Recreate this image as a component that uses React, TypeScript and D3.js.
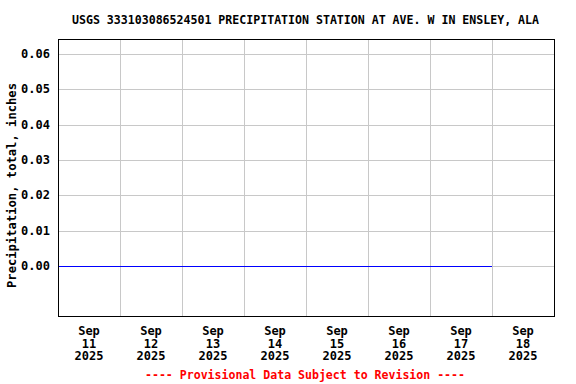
import { useRef, useEffect } from "react";
import * as d3 from "d3";

const title = "USGS 333103086524501 PRECIPITATION STATION AT AVE. W IN ENSLEY, ALA";
const yLabel = "Precipitation, total, inches";
const footer = "---- Provisional Data Subject to Revision ----";

const obsDates = ["2025-09-11", "2025-09-12", "2025-09-13", "2025-09-14", "2025-09-15", "2025-09-16", "2025-09-17", "2025-09-18"];
const obsValues = [0, 0, 0, 0, 0, 0, 0, 0];
const yTicks = [0, 0.01, 0.02, 0.03, 0.04, 0.05, 0.06];
const dayTicks = ["2025-09-11", "2025-09-12", "2025-09-13", "2025-09-14", "2025-09-15", "2025-09-16", "2025-09-17", "2025-09-18"];

const FONT = "'DejaVu Sans Mono', monospace";

export default function App() {
  const ref = useRef<SVGSVGElement>(null);
  useEffect(() => {
    if (!ref.current) return;
    const svg = d3.select(ref.current);
    svg.selectAll("*").remove();
    const W = 576, H = 384;
    const margin = { top: 39, right: 22, bottom: 68, left: 58 };
    const width = W - margin.left - margin.right;
    const height = H - margin.top - margin.bottom;
    const parse = d3.utcParse("%Y-%m-%d");
    const x = d3.scaleUtc().domain([parse("2025-09-11")!, parse("2025-09-19")!]).range([0, width]);
    const y = d3.scaleLinear().domain([-0.01415, 0.06425]).range([height, 0]);

    svg.append("text").attr("x", 305.5).attr("y", 24).attr("text-anchor", "middle")
      .attr("textLength", 467).attr("lengthAdjust", "spacingAndGlyphs")
      .attr("font-family", FONT).attr("font-weight", "bold").attr("font-size", "12px").text(title);

    const g = svg.append("g").attr("transform", `translate(${margin.left},${margin.top})`);

    // grid
    g.selectAll(".hgrid").data(yTicks).join("line")
      .attr("x1", 0).attr("x2", width).attr("y1", d => Math.round(y(d)) + 0.5).attr("y2", d => Math.round(y(d)) + 0.5)
      .attr("stroke", "#c8c8c8");
    const days = d3.utcDay.range(parse("2025-09-12")!, parse("2025-09-19")!);
    g.selectAll(".vgrid").data(days).join("line")
      .attr("x1", d => Math.round(x(d)) + 0.5).attr("x2", d => Math.round(x(d)) + 0.5).attr("y1", 0).attr("y2", height)
      .attr("stroke", "#c8c8c8");

    // data line
    const pts = obsDates.map((d, i) => ({ t: parse(d)!, v: obsValues[i] }));
    g.append("path").datum(pts)
      .attr("d", d3.line<{ t: Date; v: number }>().x(d => x(d.t)).y(d => Math.round(y(d.v)) + 0.5))
      .attr("fill", "none").attr("stroke", "#0000ff").attr("stroke-width", 1);

    // frame
    g.append("rect").attr("x", 0.5).attr("y", 0.5).attr("width", width).attr("height", height)
      .attr("fill", "none").attr("stroke", "#000").attr("stroke-width", 1);

    // y tick labels
    g.selectAll(".ylab").data(yTicks).join("text")
      .attr("x", -8).attr("y", d => y(d) + 4).attr("text-anchor", "end")
      .attr("font-family", FONT).attr("font-weight", "bold").attr("font-size", "12px")
      .text(d => d3.format(".2f")(d));

    // x tick labels (centered at noon)
    const xl = g.selectAll(".xlab").data(dayTicks).join("text")
      .attr("text-anchor", "middle")
      .attr("font-family", FONT).attr("font-weight", "bold").attr("font-size", "12px")
      .attr("transform", d => `translate(${x(d3.utcHour.offset(parse(d)!, 12))},${height + 19})`);
    xl.append("tspan").attr("x", 0).attr("y", 0).text(d => d3.utcFormat("%b")(parse(d)!));
    xl.append("tspan").attr("x", 0).attr("y", 12.5).text(d => d3.utcFormat("%d")(parse(d)!));
    xl.append("tspan").attr("x", 0).attr("y", 25).text(d => d3.utcFormat("%Y")(parse(d)!));

    svg.append("text").attr("transform", `translate(15.5,185.5) rotate(-90)`)
      .attr("text-anchor", "middle").attr("font-family", FONT).attr("font-weight", "bold").attr("font-size", "12px")
      .attr("textLength", 205).attr("lengthAdjust", "spacingAndGlyphs")
      .text(yLabel);

    svg.append("text").attr("x", 305).attr("y", 379).attr("text-anchor", "middle").attr("fill", "#ff0000")
      .attr("textLength", 320).attr("lengthAdjust", "spacingAndGlyphs")
      .attr("font-family", FONT).attr("font-weight", "bold").attr("font-size", "12px").text(footer);
  }, []);

  return (
    <div style={{ position: "absolute", left: 0, top: 0 }}>
      <svg ref={ref} width={576} height={384} style={{ display: "block", background: "#fff" }} />
    </div>
  );
}
